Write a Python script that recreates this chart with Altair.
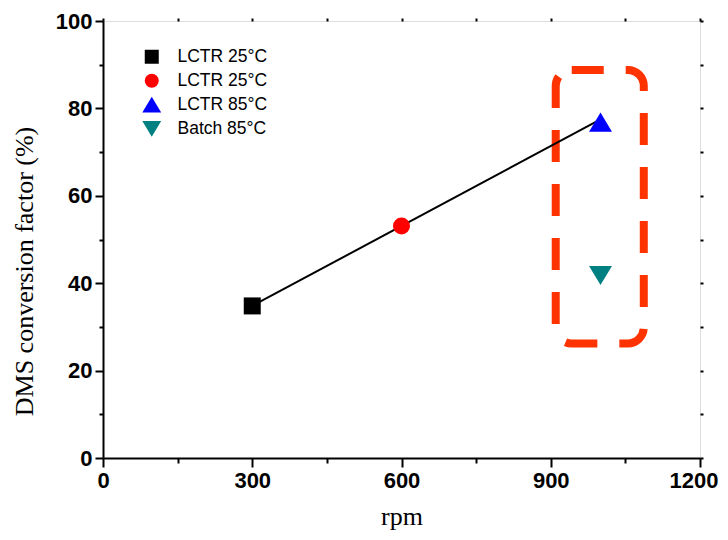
import altair as alt
import pandas as pd

# ---- data ----
series_labels = ["LCTR 25°C", "LCTR 25°C", "LCTR 85°C", "Batch 85°C"]
series_rpm = [300, 600, 1000, 1000]
series_conv = [34.8, 53.1, 76.8, 41.8]
series_colors = ["#000000", "#ff0000", "#0000ff", "#008080"]
series_shapes = [
    "square",
    "circle",
    "M-1.35,1.1L0,-1.15L1.35,1.1Z",
    "M-1.35,-1.1L0,1.15L1.35,-1.1Z",
]

fit_rpm = [300, 1000]
fit_conv = [34.8, 77.5]

box_rpm = [910, 1087]
box_conv = [26.2, 88.8]

x_major = [0, 300, 600, 900, 1200]
x_minor = [150, 450, 750, 1050]
y_major = [0, 20, 40, 60, 80, 100]
y_minor = [10, 30, 50, 70, 90]
x_all = [0, 150, 300, 450, 600, 750, 900, 1050, 1200]
y_all = [0, 10, 20, 30, 40, 50, 60, 70, 80, 90, 100]

keys = [f"{i}|{lab}" for i, lab in enumerate(series_labels)]
pts = pd.DataFrame({"key": keys, "rpm": series_rpm, "conv": series_conv})
fit = pd.DataFrame({"rpm": fit_rpm, "conv": fit_conv})
box = pd.DataFrame({"x1": [box_rpm[0]], "x2": [box_rpm[1]],
                    "y1": [box_conv[0]], "y2": [box_conv[1]]})

xscale = alt.Scale(domain=[0, 1200], nice=False, zero=False)
yscale = alt.Scale(domain=[0, 100], nice=False, zero=False)

TICK_FONT = "Liberation Sans Narrow, Liberation Sans, sans-serif"
LEGEND_FONT = "Liberation Sans"
TITLE_FONT = "Liberation Serif"

# rectangle annotation + tiny top/right ticks
rect = alt.Chart(box).mark_rect(
    fillOpacity=0, stroke="#ff3300", strokeWidth=8,
    strokeDash=[32, 22], cornerRadius=16,
).encode(
    x=alt.X("x1:Q", scale=xscale,
            axis=alt.Axis(orient="top", values=x_all, labels=False, domain=False,
                          tickSize=3, tickWidth=2, tickColor="black", title=None, grid=False)),
    x2="x2:Q",
    y=alt.Y("y1:Q", scale=yscale,
            axis=alt.Axis(orient="right", values=y_all, labels=False, domain=False,
                          tickSize=3, tickWidth=2, tickColor="black", title=None, grid=False)),
    y2="y2:Q",
)

# fitted line + minor ticks
line = alt.Chart(fit).mark_line(color="black", strokeWidth=2).encode(
    x=alt.X("rpm:Q", scale=xscale,
            axis=alt.Axis(orient="bottom", values=x_minor, labels=False, domain=False,
                          tickSize=5, tickWidth=2, tickColor="black", title=None, grid=False)),
    y=alt.Y("conv:Q", scale=yscale,
            axis=alt.Axis(orient="left", values=y_minor, labels=False, domain=False,
                          tickSize=4, tickWidth=2, tickColor="black", title=None, grid=False)),
)

last_x = x_major[-1]
points = alt.Chart(pts).mark_point(filled=True, opacity=1, size=289, strokeWidth=0).encode(
    x=alt.X("rpm:Q", scale=xscale,
            axis=alt.Axis(orient="bottom", values=x_major, format="d", tickSize=9, tickWidth=2,
                          tickColor="black", domainColor="black", domainWidth=2,
                          labelFont=TICK_FONT, labelFontWeight="bold", labelFontSize=22,
                          labelColor="black", labelPadding=3, labelFlush=False,
                          labelAlign={"condition": {"test": f"datum.value == {last_x}",
                                                    "value": "right"},
                                      "value": "center"},
                          labelOffset={"condition": {"test": f"datum.value == {last_x}",
                                                     "value": 18},
                                       "value": 0},
                          title="rpm", titleFont=TITLE_FONT, titleFontWeight="normal",
                          titleFontSize=26, titleColor="black", titlePadding=12, grid=False)),
    y=alt.Y("conv:Q", scale=yscale,
            axis=alt.Axis(orient="left", values=y_major, format="d", tickSize=8, tickWidth=2,
                          tickColor="black", domainColor="black", domainWidth=2,
                          labelFont=TICK_FONT, labelFontWeight="bold", labelFontSize=22,
                          labelColor="black", labelPadding=3, labelFlush=False,
                          title="DMS conversion factor (%)", titleFont=TITLE_FONT,
                          titleFontWeight="normal", titleFontSize=26, titleColor="black",
                          titlePadding=18, titleY=250, grid=False)),
    color=alt.Color("key:N", scale=alt.Scale(domain=keys, range=series_colors),
                    legend=alt.Legend(title=None, orient="none", legendX=40, legendY=27,
                                      labelExpr="split(datum.label, '|')[1]",
                                      labelFont=LEGEND_FONT, labelFontSize=17.5,
                                      labelColor="black", symbolSize=196,
                                      symbolStrokeWidth=0, rowPadding=5,
                                      labelOffset=17, padding=0)),
    shape=alt.Shape("key:N", scale=alt.Scale(domain=keys, range=series_shapes),
                    legend=None),
)

chart = alt.layer(rect, line, points).resolve_axis(
    x="independent", y="independent"
).properties(
    width=597, height=437,
    autosize=alt.AutoSizeParams(type="none"),
    padding={"left": 95, "top": 13, "right": 20, "bottom": 74},
).configure_view(stroke="black", strokeWidth=2).configure(background="white")

chart.save("out.html", embed_options={"renderer": "svg", "actions": False})
